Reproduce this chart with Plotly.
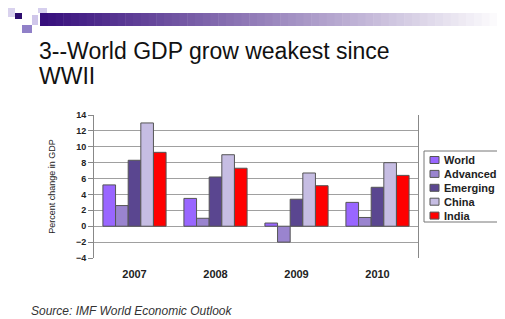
import plotly.graph_objects as go

years = ["2007", "2008", "2009", "2010"]
series_names = ["World", "Advanced", "Emerging", "China", "India"]
world = [5.2, 3.5, 0.4, 3.0]
advanced = [2.6, 1.0, -2.0, 1.1]
emerging = [8.3, 6.2, 3.4, 4.9]
china = [13.0, 9.0, 6.7, 8.0]
india = [9.3, 7.3, 5.1, 6.4]
colors = ["#9966ff", "#9a84cf", "#5a4690", "#c6bde3", "#ff0000"]
y_ticks = [-4, -2, 0, 2, 4, 6, 8, 10, 12, 14]

# window is 505x319; the page body adds an 8px margin at top-left
OFF = 8
WW, WH = 505, 319
L, R, T, B = 94, 418, 115, 258  # plot area in window pixels


def fx(px):
    return (px - L) / (R - L)


def fy(py):
    return (B - py) / (B - T)


FONT = "Liberation Sans, Arial"

fig = go.Figure()
for name, vals, col in zip(series_names, [world, advanced, emerging, china, india], colors):
    fig.add_trace(go.Bar(name=name, x=years, y=vals, showlegend=False,
                         marker=dict(color=col, line=dict(color="#555555", width=1))))

shapes = []
# decorative gradient band
n = 60
x0, x1 = 40, 505
c0 = (55, 15, 125)
for i in range(n):
    t = i / (n - 1)
    c = tuple(int(c0[k] + (255 - c0[k]) * t) for k in range(3))
    shapes.append(dict(type="rect", xref="paper", yref="paper",
                       x0=fx(x0 + (x1 - x0) * i / n), x1=fx(x0 + (x1 - x0) * (i + 1) / n + 0.5),
                       y0=fy(26), y1=fy(13), line=dict(width=0), fillcolor="rgb(%d,%d,%d)" % c, layer="above"))
# decorative squares
for (a, b, c, d, col) in [(8, 7, 15, 17, "#d9d2ee"), (15, 13, 22, 19, "#2d0d6e"), (22, 25, 32, 33, "#9080c8"),
                          (32, 15, 38, 25, "#cfc6ea"), (38, 6, 47, 13, "#d6cfee")]:
    shapes.append(dict(type="rect", xref="paper", yref="paper", x0=fx(a), x1=fx(c), y0=fy(d), y1=fy(b),
                       line=dict(width=0), fillcolor=col, layer="above"))

annotations = [
    dict(text="3--World GDP grow weakest since", xref="paper", yref="paper", x=fx(37), y=fy(51),
         xanchor="left", yanchor="middle", showarrow=False,
         font=dict(family=FONT, size=23, color="#111111")),
    dict(text="WWII", xref="paper", yref="paper", x=fx(37), y=fy(76),
         xanchor="left", yanchor="middle", showarrow=False,
         font=dict(family=FONT, size=23, color="#111111")),
    dict(text="<i>Source: IMF World Economic Outlook</i>", xref="paper", yref="paper", x=fx(29), y=fy(311),
         xanchor="left", yanchor="middle", showarrow=False,
         font=dict(family=FONT, size=12, color="#333333")),
]

# legend box (drawn by hand to match the compact original)
shapes.append(dict(type="rect", xref="paper", yref="paper", x0=fx(424), x1=fx(512), y0=fy(222), y1=fy(151),
                   line=dict(color="#777777", width=1), fillcolor="white", layer="above"))
for i, (name, col) in enumerate(zip(series_names, colors)):
    yc = 160 + i * 13.9
    shapes.append(dict(type="rect", xref="paper", yref="paper", x0=fx(430), x1=fx(439),
                       y0=fy(yc + 3.5), y1=fy(yc - 3.5), line=dict(color="#555555", width=1),
                       fillcolor=col, layer="above"))
    annotations.append(dict(text=name, xref="paper", yref="paper", x=fx(442), y=fy(yc),
                            xanchor="left", yanchor="middle", showarrow=False,
                            font=dict(family=FONT, size=11, color="#222222", weight="bold")))

fig.update_layout(
    width=WW - OFF, height=WH - OFF,
    margin=dict(l=L - OFF, r=WW - R, t=T - OFF, b=WH - B, pad=0, autoexpand=False),
    paper_bgcolor="white", plot_bgcolor="white",
    barmode="group", bargap=0.22, bargroupgap=0,
    font=dict(family=FONT, color="#222222"),
    shapes=shapes, annotations=annotations,
    showlegend=False,
)
fig.update_xaxes(showgrid=False, ticks="", showline=False, ticklabelstandoff=8,
                 tickfont=dict(family=FONT, size=11, color="#222222", weight="bold"))
fig.update_yaxes(range=[-4, 14], tickvals=y_ticks, ticks="outside", ticklen=5, tickcolor="#888888",
                 showline=True, linecolor="#888888", mirror=True,
                 gridcolor="#a0a0a0", zeroline=True, zerolinecolor="#a0a0a0", zerolinewidth=1,
                 tickfont=dict(family=FONT, size=9, color="#222222", weight="bold"),
                 title=dict(text="Percent change in GDP", font=dict(size=9, color="#222222"), standoff=18))

fig.write_html("out.html")
